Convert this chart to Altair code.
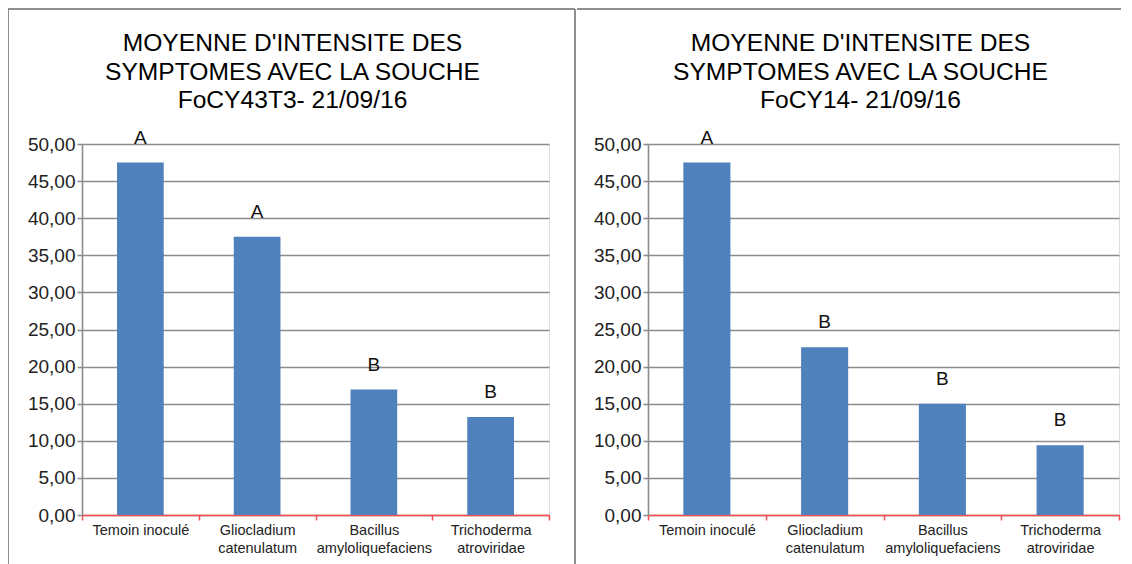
import altair as alt
import pandas as pd

categories = ["Temoin inoculé", "Gliocladium catenulatum",
              "Bacillus amyloliquefaciens", "Trichoderma atroviridae"]
values_left = [47.5, 37.5, 16.9, 13.2]
letters_left = ["A", "A", "B", "B"]
values_right = [47.5, 22.6, 15.0, 9.4]
letters_right = ["A", "B", "B", "B"]
title_left = ["MOYENNE D'INTENSITE DES", "SYMPTOMES AVEC LA SOUCHE", "FoCY43T3- 21/09/16"]
title_right = ["MOYENNE D'INTENSITE DES", "SYMPTOMES AVEC LA SOUCHE", "FoCY14- 21/09/16"]
y_ticks = [0, 5, 10, 15, 20, 25, 30, 35, 40, 45, 50]

FONT = "Liberation Sans"
BAR = "#4F81BD"
GRID = "#8c8c8c"
RED = "#ff4d4d"
FRAME = "#8f8f8f"


def panel(values, letters, title, width, left_x, right_x, top_x, top_x2):
    df = pd.DataFrame({"cat": categories, "value": values, "letter": letters})
    x_enc = alt.X(
        "cat:N", sort=categories,
        scale=alt.Scale(paddingInner=0, paddingOuter=0),
        axis=alt.Axis(
            title=None, labelAngle=0, tickBand="extent", grid=False,
            domainColor=RED, tickColor=RED, domainWidth=1.5, tickWidth=1.5,
            tickSize=5, labelFontSize=14.5, labelLineHeight=18, labelPadding=3,
            labelColor="#222222", labelFont=FONT,
            labelExpr="indexof(datum.label, 'Temoin') == 0 ? datum.label : split(datum.label, ' ')",
        ),
    )
    y_enc = alt.Y(
        "value:Q",
        scale=alt.Scale(domain=[0, 50], nice=False),
        axis=alt.Axis(
            title=None, values=y_ticks, grid=True, gridColor=GRID, gridWidth=1.6,
            domainColor=GRID, domainWidth=1.6, tickColor=GRID, tickWidth=1.6,
            tickSize=5, labelFontSize=19, labelPadding=2, labelColor="#222222",
            labelFont=FONT,
            labelExpr="replace(format(datum.value, '.2f'), '.', ',')",
        ),
    )
    base = alt.Chart(df)
    bars = base.mark_bar(color=BAR, width={"band": 0.4}).encode(x=x_enc, y=y_enc)
    text = base.mark_text(fontSize=19, dy=-19, baseline="alphabetic",
                          color="#111111", font=FONT).encode(x=x_enc, y=y_enc, text="letter:N")
    one = alt.Chart(pd.DataFrame({"k": [0]}))
    layers = [bars, text]
    top = one.mark_rule(color=FRAME, strokeWidth=2).encode(
        x=alt.value(top_x), x2=alt.value(top_x2), y=alt.value(-135))
    layers.append(top)
    for vx in (left_x, right_x):
        if vx is not None:
            layers.append(one.mark_rule(color=FRAME, strokeWidth=2).encode(
                x=alt.value(vx), y=alt.value(-135), y2=alt.value(425)))
    return alt.layer(*layers).properties(
        width=width, height=371,
        title=alt.TitleParams(text=title, fontSize=24.6, font=FONT, fontWeight="normal",
                              color="#000000", lineHeight=28.5, offset=-106,
                              anchor="middle", dx=-23),
    )


left = panel(values_left, letters_left, title_left, 467, -74, 493, -74, 493)
right = panel(values_right, letters_right, title_right, 471, None, None, -71, 473)

chart = alt.hconcat(left, right, spacing=-2).properties(
    padding={"left": -2, "top": -1, "right": 0, "bottom": 0}
).configure_view(strokeWidth=0).configure(font=FONT)

chart.save("out.html", embed_options={"renderer": "svg", "actions": False})
